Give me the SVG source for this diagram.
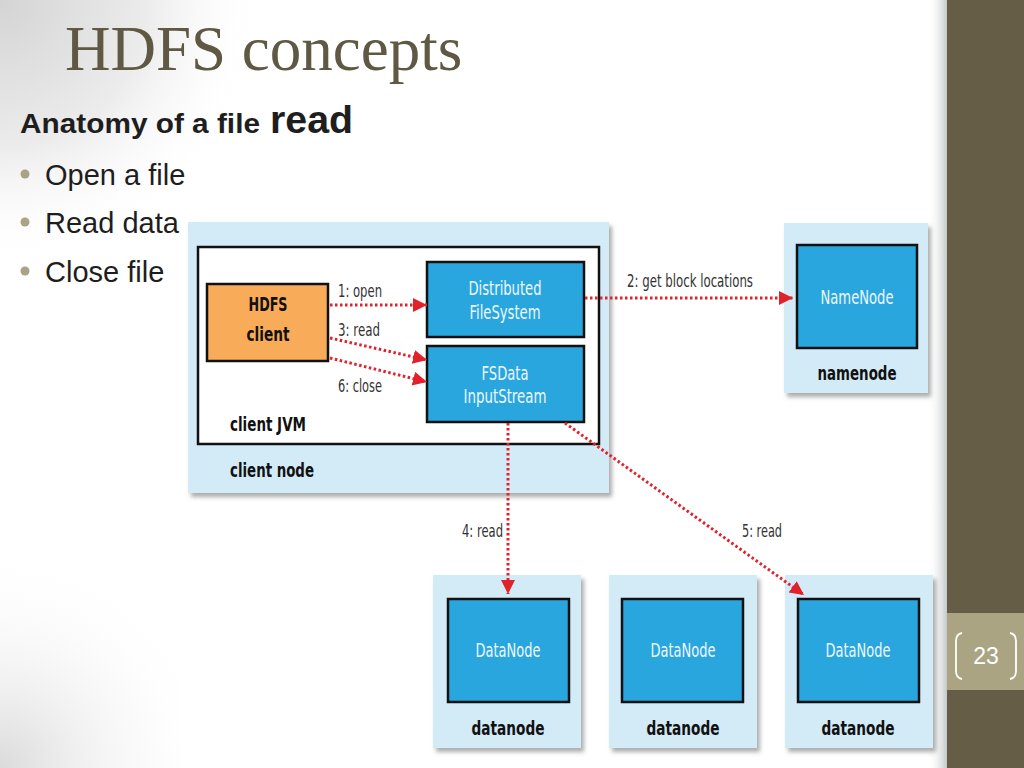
<svg xmlns="http://www.w3.org/2000/svg" width="1024" height="768" viewBox="0 0 1024 768">
  <defs>
    <radialGradient id="vigTL" cx="0" cy="0" r="330" gradientUnits="userSpaceOnUse">
      <stop offset="0" stop-color="#d4d4d4"/>
      <stop offset="0.45" stop-color="#ececec"/>
      <stop offset="0.8" stop-color="#ffffff" stop-opacity="0"/>
    </radialGradient>
    <radialGradient id="vigBL" cx="0" cy="768" r="220" gradientUnits="userSpaceOnUse">
      <stop offset="0" stop-color="#dadada"/>
      <stop offset="1" stop-color="#ffffff" stop-opacity="0"/>
    </radialGradient>
    <linearGradient id="barShadow" x1="0" y1="0" x2="1" y2="0">
      <stop offset="0" stop-color="#ffffff" stop-opacity="0"/>
      <stop offset="1" stop-color="#c4c6c8"/>
    </linearGradient>
    <filter id="shadow" x="-5%" y="-5%" width="115%" height="115%">
      <feDropShadow dx="3" dy="4" stdDeviation="2" flood-color="#6a6a6a" flood-opacity="0.55"/>
    </filter>
    <marker id="arrow" markerUnits="userSpaceOnUse" markerWidth="16" markerHeight="16" refX="14" refY="7" orient="auto">
      <path d="M0,0 L14,7 L0,14 z" fill="#e1222b"/>
    </marker>
  </defs>
  <style>
    .title { font-family: "Liberation Serif", "Times New Roman", serif; font-size: 63px; fill: #5f5843; }
    .sub { font-family: "Liberation Sans", Arial, sans-serif; font-weight: bold; fill: #1e1e1e; }
    .bul { font-family: "Liberation Sans", Arial, sans-serif; font-size: 29px; fill: #1e1e1e; }
    .dot { fill: #a9a385; }
    .outer { fill: #d3ebf7; filter: url(#shadow); }
    .inner { fill: #29a6de; stroke: #111111; stroke-width: 2.5; }
    .jvm { fill: #ffffff; stroke: #111111; stroke-width: 2.5; }
    .client { fill: #f8ab58; stroke: #111111; stroke-width: 2.5; }
    .wt { font-family: "Liberation Sans Narrow", "DejaVu Sans Condensed", "Liberation Sans", sans-serif; font-size: 20px; fill: #eef7fc; text-anchor: middle; }
    .bk { font-family: "Liberation Sans Narrow", "DejaVu Sans Condensed", "Liberation Sans", sans-serif; font-size: 20px; font-weight: bold; fill: #111111; }
    .bkc { text-anchor: middle; }
    .lbl { font-family: "Liberation Sans Narrow", "DejaVu Sans Condensed", "Liberation Sans", sans-serif; font-size: 17px; fill: #333333; }
    .conn { fill: none; stroke: #e1222b; stroke-width: 3; stroke-dasharray: 2.5 2.5; marker-end: url(#arrow); }
  </style>

  <!-- slide background -->
  <rect x="0" y="0" width="1024" height="768" fill="#ffffff"/>
  <rect x="0" y="0" width="947" height="768" fill="url(#vigTL)"/>
  <rect x="0" y="468" width="260" height="300" fill="url(#vigBL)"/>
  <rect x="180" y="205" width="766" height="563" fill="#ffffff"/>
  <rect x="928" y="0" width="19" height="768" fill="url(#barShadow)"/>
  <rect x="947" y="0" width="77" height="768" fill="#655d45"/>
  <rect x="947" y="613" width="77" height="77" fill="#aaa482"/>
  <path d="M962,633 Q956,634 956,641 L956,671 Q956,678 962,679" fill="none" stroke="#ffffff" stroke-width="1.8"/>
  <path d="M1010,633 Q1016,634 1016,641 L1016,671 Q1016,678 1010,679" fill="none" stroke="#ffffff" stroke-width="1.8"/>
  <text x="986" y="664" text-anchor="middle" font-family="Liberation Sans, Arial, sans-serif" font-size="23" fill="#ffffff">23</text>

  <!-- slide text -->
  <text class="title" x="65" y="70">HDFS concepts</text>
  <text class="sub" x="20" y="133" font-size="28" textLength="240" lengthAdjust="spacingAndGlyphs">Anatomy of a file</text>
  <text class="sub" x="270" y="133" font-size="38" textLength="83" lengthAdjust="spacingAndGlyphs">read</text>
  <circle class="dot" cx="25" cy="174" r="4.5"/>
  <circle class="dot" cx="25" cy="222" r="4.5"/>
  <circle class="dot" cx="25" cy="271" r="4.5"/>
  <text class="bul" x="45" y="185">Open a file</text>
  <text class="bul" x="45" y="233">Read data</text>
  <text class="bul" x="45" y="282">Close file</text>

  <!-- client node -->
  <g id="client-node">
    <rect class="outer" x="188" y="222" width="421" height="271"/>
    <text class="bk" x="230" y="477" textLength="84" lengthAdjust="spacingAndGlyphs">client node</text>
  </g>
  <g id="client-jvm">
    <rect class="jvm" x="198" y="247" width="401" height="197"/>
    <text class="bk" x="230" y="431" textLength="76" lengthAdjust="spacingAndGlyphs">client JVM</text>
  </g>
  <g id="hdfs-client">
    <rect class="client" x="207" y="284" width="121" height="77"/>
    <text class="bk bkc" x="268" y="311" textLength="39" lengthAdjust="spacingAndGlyphs">HDFS</text>
    <text class="bk bkc" x="268" y="341" textLength="43" lengthAdjust="spacingAndGlyphs">client</text>
  </g>
  <g id="distributed-filesystem">
    <rect class="inner" x="427" y="262" width="157" height="75"/>
    <text class="wt" x="505" y="295" textLength="73" lengthAdjust="spacingAndGlyphs">Distributed</text>
    <text class="wt" x="505" y="319" textLength="71" lengthAdjust="spacingAndGlyphs">FileSystem</text>
  </g>
  <g id="fsdata-inputstream">
    <rect class="inner" x="427" y="346" width="157" height="76"/>
    <text class="wt" x="505" y="380" textLength="47" lengthAdjust="spacingAndGlyphs">FSData</text>
    <text class="wt" x="505" y="403" textLength="83" lengthAdjust="spacingAndGlyphs">InputStream</text>
  </g>

  <!-- namenode -->
  <g id="namenode">
    <rect class="outer" x="784" y="223" width="144" height="170"/>
    <rect class="inner" x="797" y="245" width="120" height="103"/>
    <text class="wt" x="857" y="304" textLength="73" lengthAdjust="spacingAndGlyphs">NameNode</text>
    <text class="bk bkc" x="857" y="380" textLength="79" lengthAdjust="spacingAndGlyphs">namenode</text>
  </g>

  <!-- datanodes -->
  <g id="datanode-1">
    <rect class="outer" x="433" y="575" width="148" height="173"/>
    <rect class="inner" x="448" y="599" width="121" height="103"/>
    <text class="wt" x="508" y="657" textLength="65" lengthAdjust="spacingAndGlyphs">DataNode</text>
    <text class="bk bkc" x="508" y="735" textLength="73" lengthAdjust="spacingAndGlyphs">datanode</text>
  </g>
  <g id="datanode-2">
    <rect class="outer" x="609" y="575" width="148" height="173"/>
    <rect class="inner" x="622" y="599" width="121" height="103"/>
    <text class="wt" x="683" y="657" textLength="65" lengthAdjust="spacingAndGlyphs">DataNode</text>
    <text class="bk bkc" x="683" y="735" textLength="73" lengthAdjust="spacingAndGlyphs">datanode</text>
  </g>
  <g id="datanode-3">
    <rect class="outer" x="785" y="575" width="148" height="173"/>
    <rect class="inner" x="798" y="599" width="121" height="103"/>
    <text class="wt" x="858" y="657" textLength="65" lengthAdjust="spacingAndGlyphs">DataNode</text>
    <text class="bk bkc" x="858" y="735" textLength="73" lengthAdjust="spacingAndGlyphs">datanode</text>
  </g>

  <!-- connectors -->
  <g id="connectors">
    <line class="conn" x1="330" y1="305" x2="427" y2="305"/>
    <line class="conn" x1="585" y1="298" x2="793" y2="298"/>
    <line class="conn" x1="330" y1="338" x2="427" y2="360"/>
    <line class="conn" x1="330" y1="358" x2="427" y2="382"/>
    <line class="conn" x1="508" y1="423" x2="508" y2="594"/>
    <line class="conn" x1="565" y1="423" x2="804" y2="595"/>
    <text class="lbl" x="338" y="297" textLength="44" lengthAdjust="spacingAndGlyphs">1: open</text>
    <text class="lbl" x="627" y="287" textLength="126" lengthAdjust="spacingAndGlyphs">2: get block locations</text>
    <text class="lbl" x="338" y="336" textLength="42" lengthAdjust="spacingAndGlyphs">3: read</text>
    <text class="lbl" x="338" y="392" textLength="44" lengthAdjust="spacingAndGlyphs">6: close</text>
    <text class="lbl" x="462" y="537" textLength="41" lengthAdjust="spacingAndGlyphs">4: read</text>
    <text class="lbl" x="742" y="537" textLength="40" lengthAdjust="spacingAndGlyphs">5: read</text>
  </g>
</svg>
